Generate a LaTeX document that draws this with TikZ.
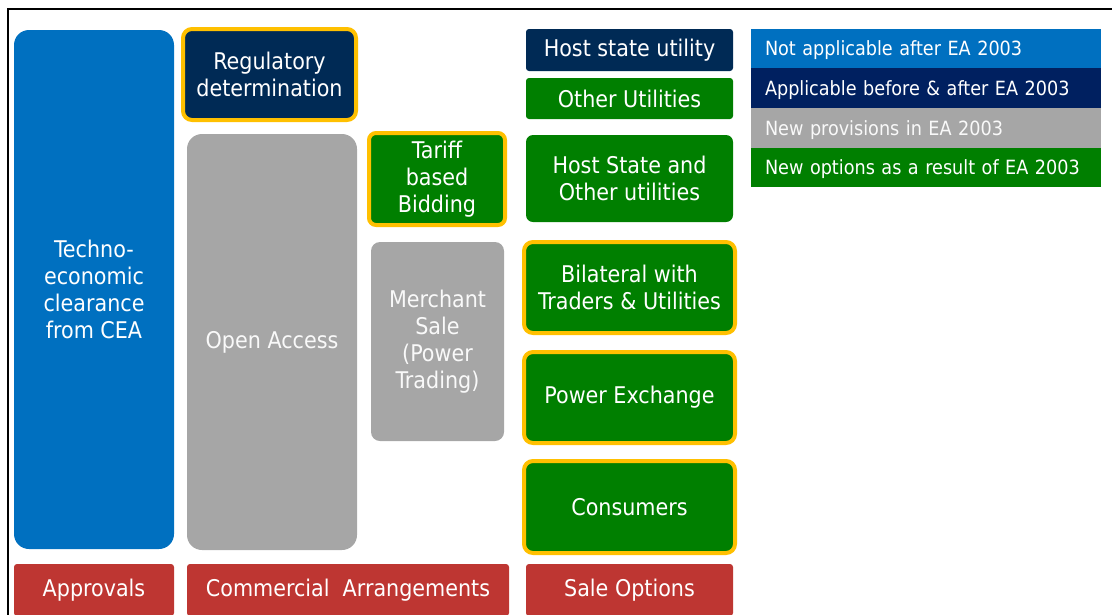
\documentclass[tikz,border=0pt]{standalone}
\usepackage{fontspec}
\setmainfont{DejaVu Sans Condensed}
\definecolor{cblue}{HTML}{0070C0}
\definecolor{cnavy}{HTML}{002A55}
\definecolor{lnavy}{HTML}{002060}
\definecolor{cgray}{HTML}{A6A6A6}
\definecolor{cgreen}{HTML}{007F00}
\definecolor{cyel}{HTML}{FFC000}
\definecolor{cred}{HTML}{BE3632}
\begin{document}
\begin{tikzpicture}[x=1pt,y=-1pt,
  box/.style={draw=none,text=white,align=center,inner sep=0pt,font=\fontsize{23}{27}\selectfont},
  tall/.style={box,rounded corners=15pt},
  mid/.style={box,rounded corners=9pt},
  small/.style={box,rounded corners=3pt},
  ybord/.style={draw=cyel,line width=4pt},
  legrow/.style={draw=none,text=white,inner xsep=14pt,inner ysep=0pt,text width=322pt,align=left,minimum width=350pt,text height=14.5pt,text depth=0pt,font=\fontsize{19.6}{22}\selectfont},
  frame/.style={draw=black,line width=2pt}]
\useasboundingbox (0,0) rectangle (1112,614);
\coordinate (fbl) at (8,620);
\coordinate (ftl) at (8,9);
\coordinate (ftr) at (1120,9);
\draw[frame] (fbl) -- (ftl) -- (ftr);
% approvals column
\node[tall,fill=cblue,minimum width=160pt,minimum height=519pt] (tech) at (94,289.5) {Techno-\\economic\\clearance\\from CEA};
% commercial
\node[mid,fill=cnavy,ybord,minimum width=173pt,minimum height=91pt] (reg) at (269.5,74.5) {Regulatory\\determination};
\node[tall,fill=cgray,text=white!95!gray,minimum width=170pt,minimum height=416pt] (open) at (272,342) {Open Access};
\node[mid,fill=cgreen,ybord,rounded corners=7pt,minimum width=136pt,minimum height=92pt] (tariff) at (437,179) {Tariff\\based\\Bidding};
\node[mid,fill=cgray,text=white!95!gray,minimum width=133pt,minimum height=199pt] (merch) at (437.5,341.5) {Merchant\\Sale\\(Power\\Trading)};
% sale options
\node[small,fill=cnavy,minimum width=207pt,minimum height=42pt] (host) at (629.5,50) {Host state utility};
\node[small,fill=cgreen,minimum width=207pt,minimum height=41pt] (other) at (629.5,98.5) {Other Utilities};
\node[mid,rounded corners=7pt,fill=cgreen,minimum width=207pt,minimum height=87pt] (hostother) at (629.5,178.5) {Host State and\\Other utilities};
\node[mid,fill=cgreen,ybord,minimum width=211pt,minimum height=91pt] (bilat) at (629.5,287.5) {Bilateral with\\Traders \& Utilities};
\node[mid,fill=cgreen,ybord,minimum width=211pt,minimum height=91pt] (power) at (629.5,397.5) {Power Exchange};
\node[mid,fill=cgreen,ybord,minimum width=211pt,minimum height=92pt] (cons) at (629.5,507) {Consumers};
% bottom headers
\node[small,fill=cred,minimum width=160pt,minimum height=52pt] (appr) at (94,590) {Approvals};
\node[small,fill=cred,minimum width=322pt,minimum height=52pt] (comm) at (348,590) {Commercial\ \ Arrangements};
\node[small,fill=cred,minimum width=207pt,minimum height=52pt] (sale) at (629.5,590) {Sale Options};
% legend
\node[legrow,fill=cblue,minimum height=39pt] (l1) at (926,48.5) {Not applicable after EA 2003};
\node[legrow,fill=lnavy,minimum height=40pt] (l2) at (926,88) {Applicable before \& after EA 2003};
\node[legrow,fill=cgray,text=white!95!gray,minimum height=40pt] (l3) at (926,128) {New provisions in EA 2003};
\node[legrow,fill=cgreen,minimum height=39pt] (l4) at (926,167.5) {New options as a result of EA 2003};
\end{tikzpicture}
\end{document}
